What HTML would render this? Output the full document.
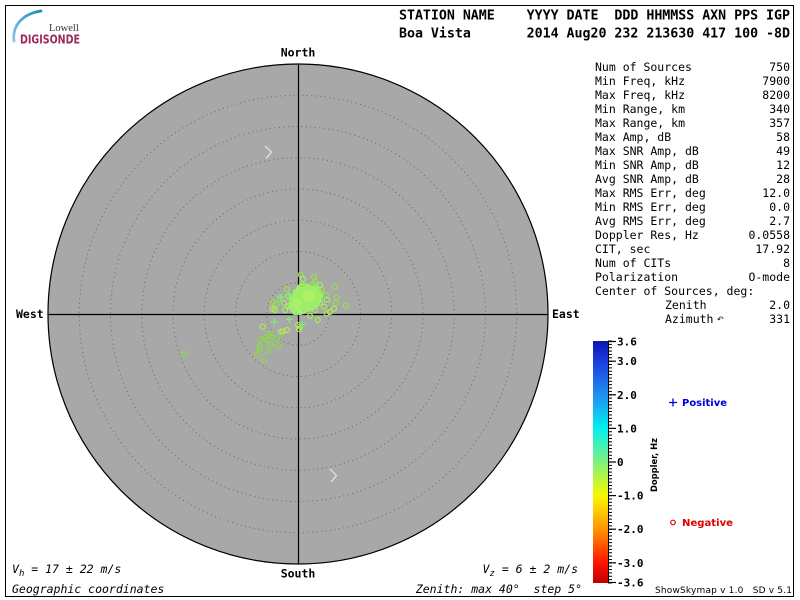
<!DOCTYPE html>
<html><head><meta charset="utf-8"><style>
html,body{margin:0;padding:0;background:#fff;width:800px;height:600px;overflow:hidden}
svg{display:block}
.m{font-family:"DejaVu Sans Mono","Liberation Mono",monospace}
.s{font-family:"DejaVu Sans","Liberation Sans",sans-serif}
</style></head><body>
<svg width="800" height="600" viewBox="0 0 800 600" xmlns="http://www.w3.org/2000/svg">
<defs>
<linearGradient id="cb" x1="0" y1="0" x2="0" y2="1">
<stop offset="0" stop-color="#0a14b0"/>
<stop offset="0.083" stop-color="#1a3ce0"/>
<stop offset="0.222" stop-color="#2090f0"/>
<stop offset="0.361" stop-color="#00f0f0"/>
<stop offset="0.5" stop-color="#80f080"/>
<stop offset="0.639" stop-color="#f8f800"/>
<stop offset="0.778" stop-color="#ff9400"/>
<stop offset="0.917" stop-color="#ff1400"/>
<stop offset="1" stop-color="#c00000"/>
</linearGradient>
<pattern id="tk" x="608" y="340.5" width="6" height="3.3611" patternUnits="userSpaceOnUse">
<rect x="0" y="0" width="4" height="1" fill="#000"/>
</pattern>
<linearGradient id="arc" x1="0" y1="1" x2="1" y2="0">
<stop offset="0" stop-color="#8cc8e0"/>
<stop offset="1" stop-color="#1a8cc0"/>
</linearGradient>
</defs>
<rect x="0" y="0" width="800" height="600" fill="#fff"/>
<rect x="5.5" y="5.5" width="788" height="591" fill="none" stroke="#000" stroke-width="1"/>

<!-- logo -->
<path d="M14,41 C12,26 22,14 41,11" fill="none" stroke="url(#arc)" stroke-width="2.8" stroke-linecap="round"/>
<text x="49" y="31" font-family="Liberation Serif,serif" font-size="10.5" fill="#333">Lowell</text>
<text x="20" y="43.5" class="s" font-size="12.5" font-weight="bold" fill="#9a2a5a" textLength="60" lengthAdjust="spacingAndGlyphs">DIGISONDE</text>

<!-- header -->
<text x="399" y="19.5" class="m" font-size="13.3" font-weight="bold" xml:space="preserve" textLength="391" lengthAdjust="spacing">STATION NAME    YYYY DATE  DDD HHMMSS AXN PPS IGP</text>
<text x="399" y="37.5" class="m" font-size="13.3" font-weight="bold" xml:space="preserve" textLength="391" lengthAdjust="spacing">Boa Vista       2014 Aug20 232 213630 417 100 -8D</text>

<!-- polar plot -->
<circle cx="298" cy="314" r="250" fill="#a8a8a8" stroke="#000" stroke-width="1.2"/>
<g fill="none" stroke="#686868" stroke-width="1" stroke-dasharray="1 3.5">
<circle cx="298" cy="314" r="31.25"/>
<circle cx="298" cy="314" r="62.5"/>
<circle cx="298" cy="314" r="93.75"/>
<circle cx="298" cy="314" r="125"/>
<circle cx="298" cy="314" r="156.25"/>
<circle cx="298" cy="314" r="187.5"/>
<circle cx="298" cy="314" r="218.75"/>
</g>
<line x1="298.5" y1="64" x2="298.5" y2="564" stroke="#000" stroke-width="1.2"/>
<line x1="48" y1="314.5" x2="548" y2="314.5" stroke="#000" stroke-width="1.2"/>

<path d="M265,146 L271.5,152 L266,158.5" fill="none" stroke="#e6e6e6" stroke-width="1.2"/>
<path d="M330,469 L336.5,475.5 L331,482" fill="none" stroke="#e6e6e6" stroke-width="1.2"/>

<!-- dense blob -->
<g fill="#9cee6a">
<ellipse cx="306" cy="299" rx="15" ry="13"/>
<ellipse cx="299" cy="305" rx="11" ry="10"/>
<ellipse cx="313" cy="296" rx="10" ry="11"/>
<ellipse cx="304" cy="289" rx="8" ry="6"/>
</g>
<g fill="#b4f064" opacity="0.8">
<ellipse cx="309" cy="296" rx="7" ry="6"/>
<ellipse cx="297" cy="303" rx="5" ry="5"/>
</g>
<g fill="none" stroke-width="1.2">
<g stroke="#96e24a">
<circle cx="300.7" cy="274.7" r="2.5"/><circle cx="314" cy="276.7" r="2.5"/><circle cx="315" cy="282" r="2.5"/>
<circle cx="313" cy="284" r="2.5"/><circle cx="302" cy="284" r="2.5"/><circle cx="334.7" cy="286.7" r="2.5"/>
<circle cx="286.7" cy="289" r="2.5"/><circle cx="322" cy="290" r="2.5"/><circle cx="336.7" cy="297.7" r="2.5"/>
<circle cx="326" cy="295" r="2.5"/><circle cx="280" cy="297.7" r="2.5"/><circle cx="273" cy="302" r="2.5"/>
<circle cx="276.7" cy="304" r="2.5"/><circle cx="335.7" cy="303" r="2.5"/><circle cx="345.7" cy="305.7" r="2.5"/>
</g>
<g stroke="#aaec50">
<circle cx="272.7" cy="309" r="2.5"/><circle cx="275" cy="310" r="2.5"/><circle cx="334" cy="308.7" r="2.5"/>
<circle cx="330" cy="312" r="2.5"/><circle cx="326.7" cy="313.3" r="2.5"/><circle cx="324.3" cy="306.7" r="2.5"/>
<circle cx="317.7" cy="320" r="2.5"/><circle cx="310" cy="316" r="2.5"/><circle cx="298" cy="325" r="2.5"/>
<circle cx="299" cy="329" r="2.5"/><circle cx="300" cy="326.7" r="2.5"/><circle cx="287" cy="330" r="2.5"/>
<circle cx="282.7" cy="331.3" r="2.5"/><circle cx="280.7" cy="331.7" r="2.5"/><circle cx="262.7" cy="326.7" r="2.5"/>
</g>
<g stroke="#8cdc44">
<circle cx="270" cy="333.3" r="2.5"/><circle cx="271.7" cy="336" r="2.5"/><circle cx="265" cy="338" r="2.5"/>
<circle cx="260.7" cy="339.3" r="2.5"/><circle cx="267.3" cy="340" r="2.5"/><circle cx="277.3" cy="338.7" r="2.5"/>
<circle cx="271" cy="345" r="2.5"/><circle cx="260" cy="346" r="2.5"/><circle cx="259.3" cy="349" r="2.5"/>
<circle cx="278.3" cy="346" r="2.5"/><circle cx="267.7" cy="351.7" r="2.5"/><circle cx="257.3" cy="354.7" r="2.5"/>
<circle cx="263.7" cy="360.7" r="2.5"/><circle cx="184.7" cy="354" r="2.5"/>
</g>
<g stroke="#a0f060">
<circle cx="292" cy="300" r="2.5"/><circle cx="289" cy="306" r="2.5"/><circle cx="295" cy="312" r="2.5"/>
<circle cx="310" cy="288" r="2.5"/><circle cx="318" cy="296" r="2.5"/><circle cx="320" cy="303" r="2.5"/>
<circle cx="306" cy="309" r="2.5"/><circle cx="284" cy="303" r="2.5"/><circle cx="288" cy="296" r="2.5"/>
<circle cx="327" cy="300" r="2.5"/><circle cx="315" cy="310" r="2.5"/><circle cx="296" cy="292" r="2.5"/>
<circle cx="320" cy="285" r="2.5"/><circle cx="303" cy="279" r="2.5"/><circle cx="285" cy="310" r="2.5"/>
</g>
</g>
<g stroke="#78f078" stroke-width="1.2">
<path d="M270.8,322H277.8M274.3,318.5V325.5"/>
<path d="M285.8,319.3H292.8M289.3,315.8V322.8"/>
<path d="M298.8,324.3H305.8M302.3,320.8V327.8"/>
<path d="M277.2,297.3H284.2M280.7,293.8V300.8"/>
<path d="M285.8,294.7H292.8M289.3,291.2V298.2"/>
</g>
<line x1="297" y1="308" x2="302" y2="313" stroke="#d8d8d8" stroke-width="1"/>

<!-- compass labels -->
<g class="m" font-size="11.5" font-weight="bold" fill="#000">
<text x="298" y="56.5" text-anchor="middle">North</text>
<text x="298" y="577.5" text-anchor="middle">South</text>
<text x="16" y="318">West</text>
<text x="552" y="318">East</text>
</g>

<!-- stats -->
<g class="m" font-size="11.5" fill="#000">
<text x="595" y="71">Num of Sources</text><text x="790" y="71" text-anchor="end">750</text>
<text x="595" y="85">Min Freq, kHz</text><text x="790" y="85" text-anchor="end">7900</text>
<text x="595" y="99">Max Freq, kHz</text><text x="790" y="99" text-anchor="end">8200</text>
<text x="595" y="113">Min Range, km</text><text x="790" y="113" text-anchor="end">340</text>
<text x="595" y="127">Max Range, km</text><text x="790" y="127" text-anchor="end">357</text>
<text x="595" y="141">Max Amp, dB</text><text x="790" y="141" text-anchor="end">58</text>
<text x="595" y="155">Max SNR Amp, dB</text><text x="790" y="155" text-anchor="end">49</text>
<text x="595" y="169">Min SNR Amp, dB</text><text x="790" y="169" text-anchor="end">12</text>
<text x="595" y="183">Avg SNR Amp, dB</text><text x="790" y="183" text-anchor="end">28</text>
<text x="595" y="197">Max RMS Err, deg</text><text x="790" y="197" text-anchor="end">12.0</text>
<text x="595" y="211">Min RMS Err, deg</text><text x="790" y="211" text-anchor="end">0.0</text>
<text x="595" y="225">Avg RMS Err, deg</text><text x="790" y="225" text-anchor="end">2.7</text>
<text x="595" y="239">Doppler Res, Hz</text><text x="790" y="239" text-anchor="end">0.0558</text>
<text x="595" y="253">CIT, sec</text><text x="790" y="253" text-anchor="end">17.92</text>
<text x="595" y="267">Num of CITs</text><text x="790" y="267" text-anchor="end">8</text>
<text x="595" y="281">Polarization</text><text x="790" y="281" text-anchor="end">O-mode</text>
<text x="595" y="295">Center of Sources, deg:</text>
<text x="665" y="309">Zenith</text><text x="790" y="309" text-anchor="end">2.0</text>
<text x="665" y="323">Azimuth</text><text x="790" y="323" text-anchor="end">331</text>
</g>
<text x="717" y="322" class="s" font-size="8" fill="#000">↶</text>

<!-- colorbar -->
<rect x="593" y="341" width="15" height="242" fill="url(#cb)"/>
<rect x="608" y="340.5" width="5" height="243" fill="url(#tk)"/>
<line x1="608.5" y1="341" x2="608.5" y2="583" stroke="#000" stroke-width="1"/>
<g stroke="#000" stroke-width="1.2">
<line x1="608" y1="341.5" x2="616" y2="341.5"/>
<line x1="608" y1="361.2" x2="616" y2="361.2"/>
<line x1="608" y1="394.8" x2="616" y2="394.8"/>
<line x1="608" y1="428.4" x2="616" y2="428.4"/>
<line x1="608" y1="462" x2="616" y2="462"/>
<line x1="608" y1="495.6" x2="616" y2="495.6"/>
<line x1="608" y1="529.2" x2="616" y2="529.2"/>
<line x1="608" y1="562.8" x2="616" y2="562.8"/>
<line x1="608" y1="582.5" x2="616" y2="582.5"/>
</g>
<g class="m" font-size="11" font-weight="bold" fill="#000">
<text x="617" y="345.5">3.6</text>
<text x="617" y="365">3.0</text>
<text x="617" y="398.8">2.0</text>
<text x="617" y="432.4">1.0</text>
<text x="617" y="466">0</text>
<text x="617" y="499.6">-1.0</text>
<text x="617" y="533.2">-2.0</text>
<text x="617" y="566.8">-3.0</text>
<text x="617" y="586.5">-3.6</text>
</g>
<text transform="translate(657,465) rotate(-90)" text-anchor="middle" class="s" font-size="9" font-weight="bold" fill="#000" textLength="54" lengthAdjust="spacingAndGlyphs">Doppler, Hz</text>

<path d="M669,402.5H677M673,398.5V406.5" stroke="#0000e0" stroke-width="1.3"/>
<text x="682" y="406" class="s" font-size="10" font-weight="bold" fill="#0000e0" textLength="45" lengthAdjust="spacingAndGlyphs">Positive</text>
<circle cx="673" cy="522.5" r="2.3" fill="none" stroke="#e00000" stroke-width="1.2"/>
<text x="682" y="526" class="s" font-size="10" font-weight="bold" fill="#e00000" textLength="51" lengthAdjust="spacingAndGlyphs">Negative</text>

<text x="655" y="593" class="s" font-size="9" fill="#000" xml:space="preserve" textLength="137" lengthAdjust="spacing">ShowSkymap v 1.0   SD v 5.1</text>

<!-- bottom texts -->
<g class="m" font-size="11.5" font-style="italic" fill="#000">
<text x="12" y="573" xml:space="preserve">V<tspan font-size="9" dy="3">h</tspan><tspan dy="-3"> = 17 ± 22 m/s</tspan></text>
<text x="12" y="593">Geographic coordinates</text>
<text x="578" y="573" text-anchor="end" xml:space="preserve">V<tspan font-size="9" dy="3">z</tspan><tspan dy="-3"> = 6 ± 2 m/s</tspan></text>
<text x="582" y="593" text-anchor="end" xml:space="preserve">Zenith: max 40°  step 5°</text>
</g>
</svg>
</body></html>
